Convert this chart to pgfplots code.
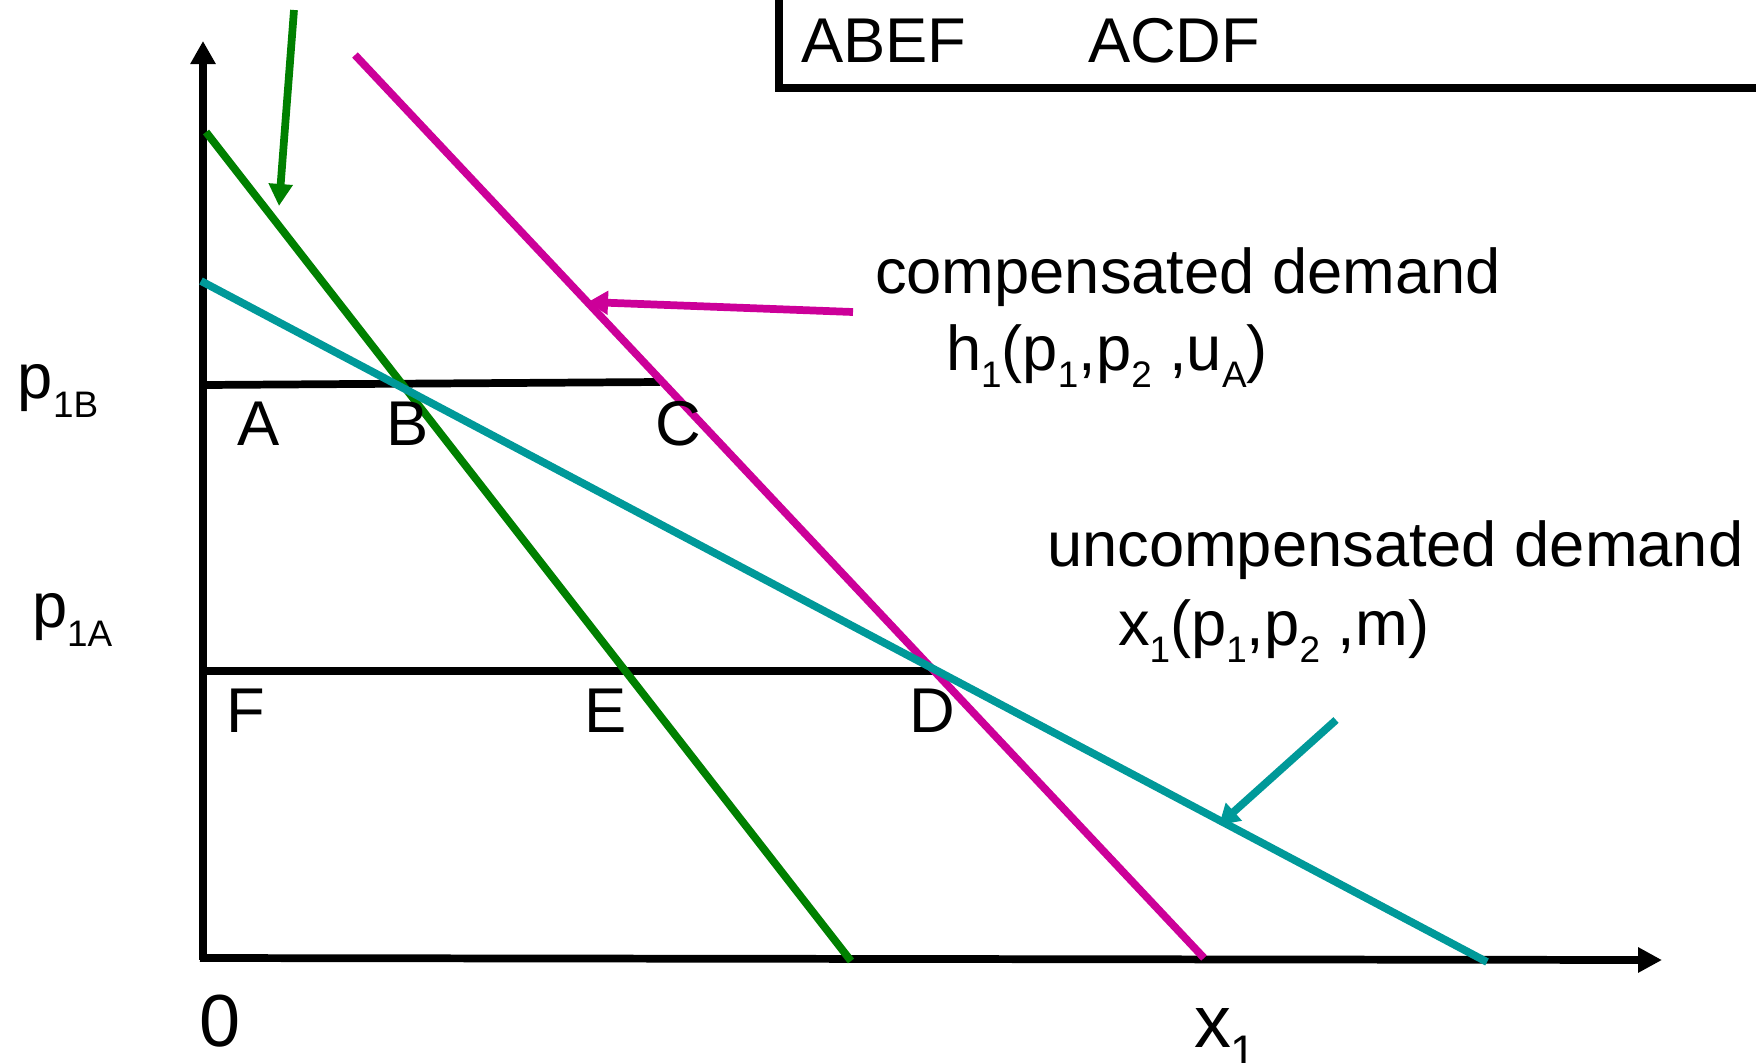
\documentclass[border=0pt]{standalone}
\usepackage{pgfplots}
\pgfplotsset{compat=1.18}
\usepackage{fontspec}
\setmainfont{Liberation Sans}
\usetikzlibrary{arrows.meta}
\definecolor{dgreen}{RGB}{0,128,0}
\definecolor{magen}{RGB}{204,0,153}
\definecolor{teal2}{RGB}{0,153,153}
\newcommand{\sub}[1]{\raisebox{-0.17cm}{\fontsize{10.5}{12}\selectfont #1}}
\newcommand{\subb}[1]{\raisebox{-0.19cm}{\fontsize{10.5}{12}\selectfont #1}}
\tikzset{lbl/.style={anchor=base west, inner sep=0pt, outer sep=0pt, font=\fontsize{18}{20}\selectfont}}
\begin{document}
\begin{tikzpicture}
\begin{axis}[
  scale only axis, width=17.56cm, height=10.62cm,
  xmin=0, xmax=1756, ymin=0, ymax=1062, y dir=reverse,
  hide axis, clip=false,
]
% axes
\addplot[black, line width=2.2pt, -{Triangle[width=0.24cm,length=0.23cm]}] coordinates {(203,960) (203,41)};
\addplot[black, line width=2.2pt, -{Triangle[width=0.24cm,length=0.24cm]}] coordinates {(200,958) (1662,960)};
% box
\addplot[black, line width=2.2pt] coordinates {(779,0) (779,88) (1756,88)};
% horizontal price lines
\addplot[black, line width=2.2pt] coordinates {(203,385) (660,382)};
\addplot[black, line width=2.2pt] coordinates {(203,671) (935,671)};
% demand lines
\addplot[dgreen, line width=2.2pt] coordinates {(206,132) (851,961)};
\addplot[magen, line width=2.2pt] coordinates {(355,55) (1204,958)};
\addplot[teal2, line width=2.2pt] coordinates {(201,281) (1487,962)};
% pointer arrows
\addplot[dgreen, line width=2.2pt, -{Triangle[width=0.23cm,length=0.22cm]}] coordinates {(294,10) (279,206)};
\addplot[magen, line width=2.2pt, -{Triangle[width=0.23cm,length=0.2cm]}] coordinates {(853,312) (588,302)};
\addplot[teal2, line width=2.2pt, -{Triangle[width=0.23cm,length=0.2cm]}] coordinates {(1336,720) (1219,825)};
% labels
\node[lbl] at (axis cs:801,62) {ABEF};
\node[lbl] at (axis cs:1088,62) {ACDF};
\node[lbl] at (axis cs:875,293) {compensated demand};
\node[lbl] at (axis cs:946,370) {h\sub{1}(p\sub{1},p\sub{2} ,u\sub{A})};
\node[lbl] at (axis cs:1047,566) {uncompensated demand};
\node[lbl] at (axis cs:1118,645) {x\sub{1}(p\sub{1},p\sub{2} ,m)};
\node[lbl] at (axis cs:18,398) {p\subb{1B}};
\node[lbl] at (axis cs:32,627) {p\subb{1A}};
\node[lbl] at (axis cs:237,445) {A};
\node[lbl] at (axis cs:386,445) {B};
\node[lbl] at (axis cs:655,445) {C};
\node[lbl] at (axis cs:226,732) {F};
\node[lbl] at (axis cs:584,732) {E};
\node[lbl] at (axis cs:909,732) {D};
\node[lbl, font=\fontsize{21}{24}\selectfont] at (axis cs:199,1046) {0};
\node[lbl, font=\fontsize{21}{24}\selectfont] at (axis cs:1194,1047) {x\raisebox{-0.2cm}{\fontsize{13}{14}\selectfont 1}};
\end{axis}
\pgfresetboundingbox
\path[use as bounding box] (current axis.south west) rectangle (current axis.north east);
\end{tikzpicture}
\end{document}
